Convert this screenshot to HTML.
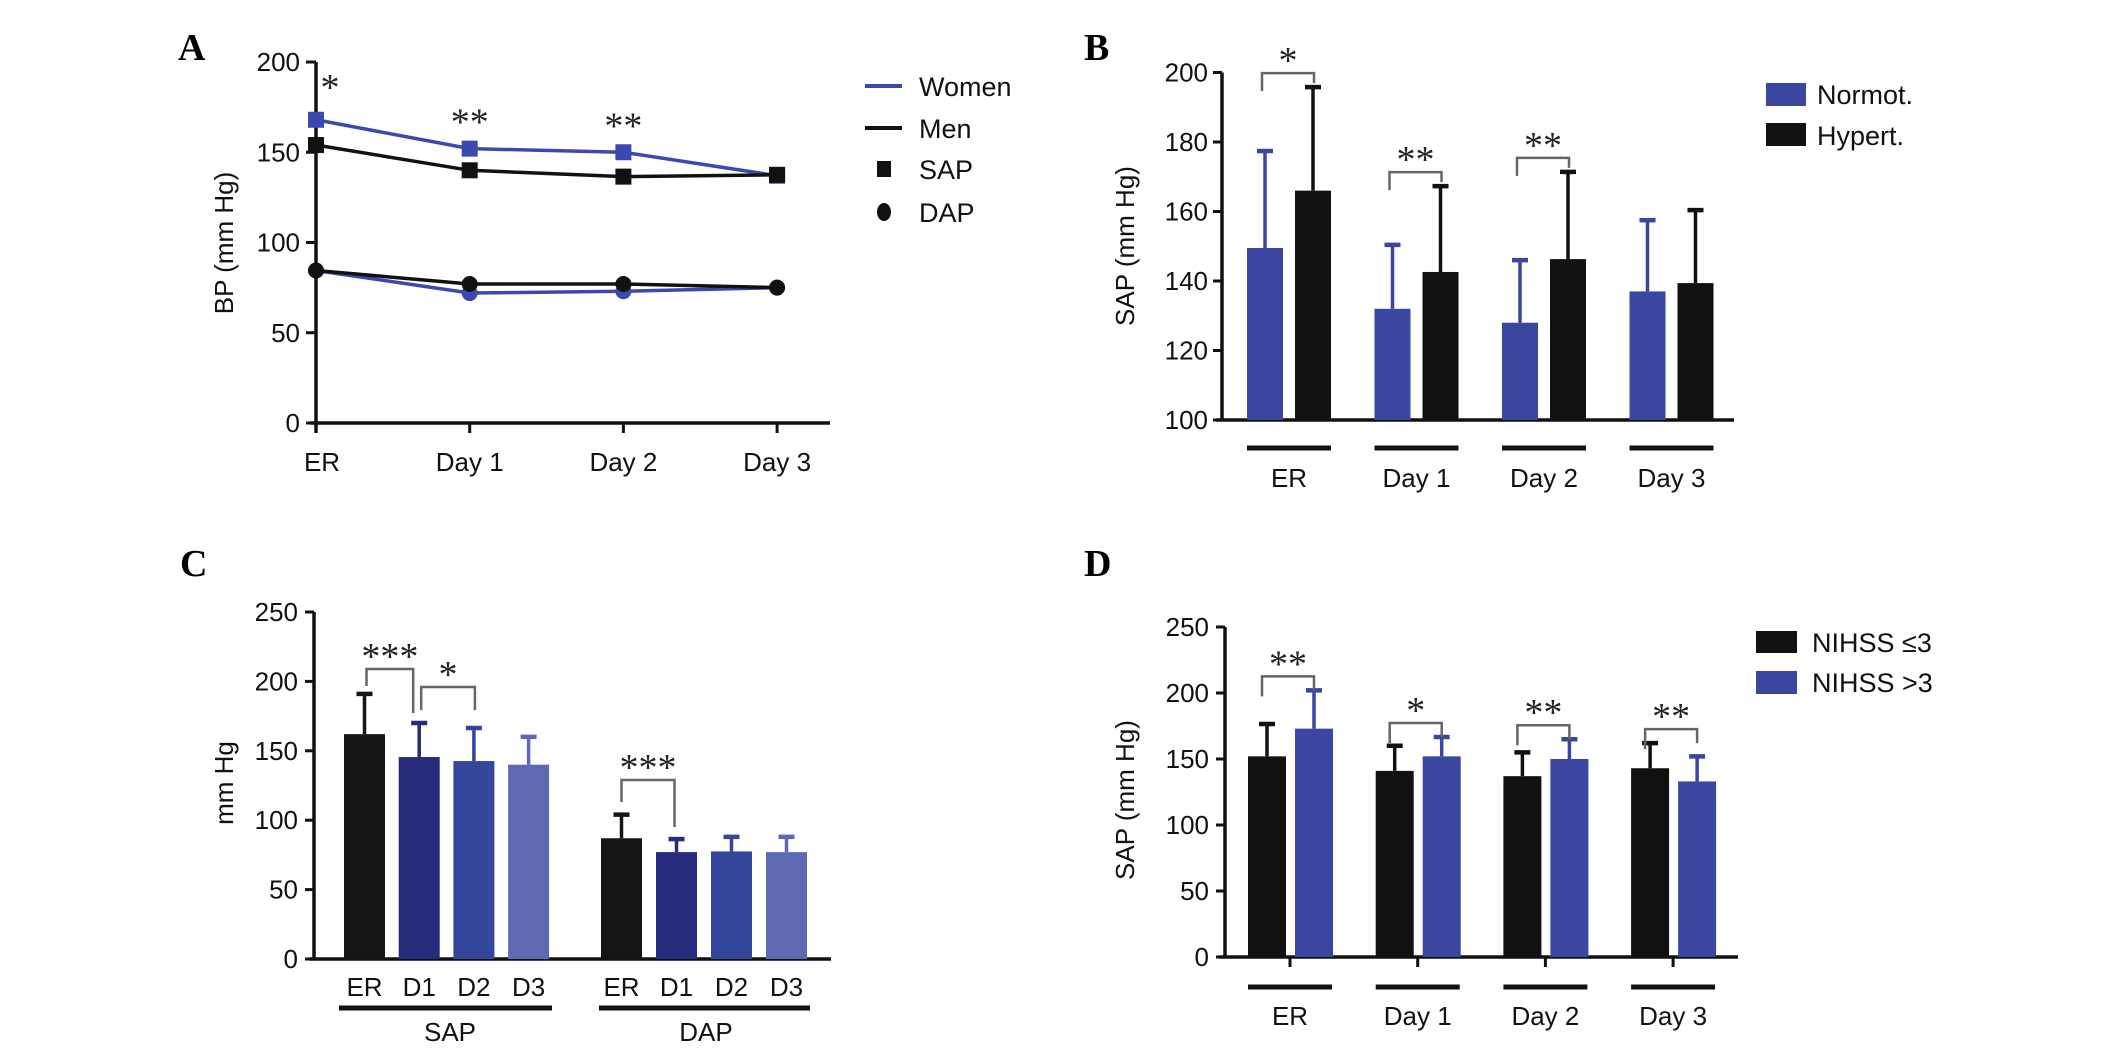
<!DOCTYPE html>
<html><head><meta charset="utf-8"><style>
html,body{margin:0;padding:0;background:#fff;}
svg{display:block;font-family:"Liberation Sans",Arial,sans-serif;}
.t{font-size:26px;fill:#111;}
.lg{font-size:27px;fill:#111;}
.pl{font-family:"Liberation Serif",serif;font-weight:bold;font-size:38px;fill:#000;}
.st{font-family:"Liberation Serif",serif;font-size:38px;fill:#222;}
</style></head><body>
<svg id="fig" width="2126" height="1054" viewBox="0 0 2126 1054">
<rect width="2126" height="1054" fill="#fff"/>
<text class="pl" x="178" y="60">A</text>
<text class="pl" x="1084" y="60">B</text>
<text class="pl" x="180" y="576">C</text>
<text class="pl" x="1084" y="576">D</text>

<text class="t" transform="translate(233,243) rotate(-90)" text-anchor="middle">BP (mm Hg)</text>
<text class="t" transform="translate(1134,246) rotate(-90)" text-anchor="middle">SAP (mm Hg)</text>
<text class="t" transform="translate(233,783) rotate(-90)" text-anchor="middle">mm Hg</text>
<text class="t" transform="translate(1134,800) rotate(-90)" text-anchor="middle">SAP (mm Hg)</text>

<g>
<line x1="865" y1="86" x2="902" y2="86" stroke="#3a48b0" stroke-width="4"/>
<text class="lg" x="919" y="96">Women</text>
<line x1="865" y1="128" x2="902" y2="128" stroke="#111" stroke-width="4"/>
<text class="lg" x="919" y="138">Men</text>
<rect x="877" y="161" width="14" height="16" fill="#111"/>
<text class="lg" x="919" y="179">SAP</text>
<ellipse cx="884" cy="212" rx="7" ry="9" fill="#111"/>
<text class="lg" x="919" y="222">DAP</text>
</g>
<g>
<rect x="1766" y="83" width="40" height="23" fill="#3a46a0"/>
<text class="lg" x="1817" y="104">Normot.</text>
<rect x="1766" y="123" width="40" height="23" fill="#111"/>
<text class="lg" x="1817" y="145">Hypert.</text>
</g>
<g>
<rect x="1756" y="631" width="41" height="22" fill="#111"/>
<text class="lg" x="1812" y="652">NIHSS ≤3</text>
<rect x="1756" y="671" width="41" height="23" fill="#3a46a0"/>
<text class="lg" x="1812" y="692">NIHSS &gt;3</text>
</g>
<g id="marks"></g>
</svg>
<script>
// ---- Panel A data ----
const A_cats = ['ER','Day 1','Day 2','Day 3'];
const A_ticks = [0,50,100,150,200];
const A_womenSAP = [168,152,150,137];
const A_menSAP = [154,140,136.5,137.5];
const A_womenDAP = [84.5,72,73,75];
const A_menDAP = [84.5,77,77,75];
const A_sig = ['*','**','**',''];
// ---- Panel B data ----
const B_cats = ['ER','Day 1','Day 2','Day 3'];
const B_ticks = [100,120,140,160,180,200];
const B_normot = [149.5,132,128,137];
const B_normotErr = [177.4,150.4,146,157.5];
const B_hypert = [166,142.6,146.3,139.4];
const B_hypertErr = [195.8,167.3,171.4,160.4];
const B_sig = ['*','**','**',''];
// ---- Panel C data ----
const C_cats = ['ER','D1','D2','D3'];
const C_groups = ['SAP','DAP'];
const C_ticks = [0,50,100,150,200,250];
const C_sap = [162,145.5,142.6,140];
const C_sapErr = [191,170,166.4,160];
const C_dap = [87,77,77.5,77];
const C_dapErr = [104,86.4,88,88];
// ---- Panel D data ----
const D_cats = ['ER','Day 1','Day 2','Day 3'];
const D_ticks = [0,50,100,150,200,250];
const D_low = [152,141,137,143];
const D_lowErr = [176.5,160,155,162];
const D_high = [173,152,150,133];
const D_highErr = [202,166.7,165,152];
const D_sig = ['**','*','**','**'];

const NS='http://www.w3.org/2000/svg';
const G=document.getElementById('marks');
const BLUE='#3a46a0', BLACK='#111';
function mk(tag,attrs){const e=document.createElementNS(NS,tag);for(const k in attrs)e.setAttribute(k,attrs[k]);G.appendChild(e);return e;}
function line(x1,y1,x2,y2,c,w){return mk('line',{x1:x1,y1:y1,x2:x2,y2:y2,stroke:c,'stroke-width':w});}
function txt(x,y,s,cls,anchor){const e=mk('text',{x:x,y:y,class:cls,'text-anchor':anchor||'middle'});e.textContent=s;return e;}

const xA=i=>316+i*153.7, yA=v=>423-1.805*v;
const xB=i=>1289+i*127.5, yB=v=>420-3.475*(v-100);
const xCs=i=>364.5+i*54.7, xCd=i=>621.5+i*55, yC=v=>959-1.388*v;
const xD=i=>1290+i*127.7, yD=v=>957-1.32*v;

function errBar(cx,yTop,yBase,c){
  const l=line(cx,yBase,cx,yTop,c,3.5);
  
  
  const cap=line(cx-8,yTop,cx+8,yTop,c,4.5);
  
  
}
function bar(x,w,yTop,yBase,c,name){
  const r=mk('rect',{x:x,y:yTop,width:w,height:yBase-yTop,fill:c});
  
  
}
function bracket(x1,x2,yT,l1,l2,label){
  const p=mk('path',{d:`M${x1},${yT+l1} V${yT} H${x2} V${yT+l2}`,fill:'none',stroke:'#666','stroke-width':2.5});
  
  
  const t=txt((x1+x2)/2,yT,label,'st');
  
  
}

// ===== Panel A =====
{
  const ax=line(316,yA(200),316,yA(0)+10,BLACK,3.5);
  
  
  const xax=line(310,yA(0),830,yA(0),BLACK,3.5);
  
  
  A_ticks.forEach(v=>{
    const tk=line(306,yA(v),316,yA(v),BLACK,3);
    
    
    const t=txt(300,yA(v)+9,String(v),'t','end');
    
    
  });
  A_cats.forEach((c,i)=>{
    const tk=line(xA(i),yA(0),xA(i),yA(0)+10,BLACK,3);
    
    
    const t=txt(xA(i)+(i===0?6:0),471,c,'t');
    
    
  });
  const series=[[A_womenDAP,'#3a48b0','c','line-women-dap'],[A_menDAP,BLACK,'c','line-men-dap'],[A_womenSAP,'#3a48b0','s','line-women-sap'],[A_menSAP,BLACK,'s','line-men-sap']];
  series.forEach(([d,col,m,name])=>{
    const pts=d.map((v,i)=>xA(i)+','+yA(v)).join(' ');
    const pl=mk('polyline',{points:pts,fill:'none',stroke:col,'stroke-width':3.5});
    
    
    d.forEach((v,i)=>{
      let e;
      if(m==='s') e=mk('rect',{x:xA(i)-8,y:yA(v)-8,width:16,height:16,fill:col});
      else e=mk('circle',{cx:xA(i),cy:yA(v),r:8,fill:col});
      
      
    });
  });
  A_sig.forEach((s,i)=>{
    if(!s)return;
    const t=txt(xA(i)+(i===0?14:0),yA(A_womenSAP[i])-14+(i===0?-6:0),s,'st');
    
    
  });
}
// ===== Panel B =====
{
  const ax=line(1222,yB(200),1222,yB(100),BLACK,3.5);
  
  
  const xax=line(1216,yB(100),1734,yB(100),BLACK,3.5);
  
  
  B_ticks.forEach(v=>{
    const tk=line(1213,yB(v),1222,yB(v),BLACK,3);
    
    
    const t=txt(1208,yB(v)+9,String(v),'t','end');
    
    
  });
  B_cats.forEach((c,i)=>{
    const cx=xB(i);
    errBar(cx-24,yB(B_normotErr[i]),yB(B_normot[i]),BLUE);
    errBar(cx+24,yB(B_hypertErr[i]),yB(B_hypert[i]),BLACK);
    bar(cx-42,36,yB(B_normot[i]),yB(100),BLUE,'bar-normot');
    bar(cx+6,36,yB(B_hypert[i]),yB(100),BLACK,'bar-hypert');
    const u=line(cx-42,448,cx+42,448,BLACK,5);
    
    
    const t=txt(cx,487,c,'t');
    
    
    if(B_sig[i]){
      const top=Math.min(yB(B_hypertErr[i]),yB(B_normotErr[i]))-14;
      bracket(cx-27,cx+25,top,18,10,B_sig[i]);
    }
  });
}
// ===== Panel C =====
{
  const ax=line(314,yC(250),314,yC(0),BLACK,3.5);
  
  
  const xax=line(309,yC(0),831,yC(0),BLACK,3.5);
  
  
  C_ticks.forEach(v=>{
    const tk=line(305,yC(v),314,yC(v),BLACK,3);
    
    
    const t=txt(298,yC(v)+9,String(v),'t','end');
    
    
  });
  const cols=['#151515','#272b7c','#34459c','#5f69b2'];
  C_cats.forEach((c,i)=>{
    errBar(xCs(i),yC(C_sapErr[i]),yC(C_sap[i]),cols[i]);
    bar(xCs(i)-20.5,41,yC(C_sap[i]),yC(0),cols[i],'bar-sap');
    errBar(xCd(i),yC(C_dapErr[i]),yC(C_dap[i]),cols[i]);
    bar(xCd(i)-20.5,41,yC(C_dap[i]),yC(0),cols[i],'bar-dap');
    const t1=txt(xCs(i),996,c,'t');
    
    
    const t2=txt(xCd(i),996,c,'t');
    
    
  });
  const u1=line(339,1008,552,1008,BLACK,5);
  
  
  const u2=line(599,1008,810,1008,BLACK,5);
  
  
  const g1=txt(450,1041,C_groups[0],'t');
  
  
  const g2=txt(706,1041,C_groups[1],'t');
  
  
  bracket(xCs(0)+2,xCs(1)-6,669,17,44,'***');
  bracket(xCs(1)+2,xCs(2)+1,687,23,23,'*');
  bracket(xCd(0),xCd(1)-2,780,22,47,'***');
}
// ===== Panel D =====
{
  const ax=line(1225,yD(250),1225,yD(0),BLACK,3.5);
  
  
  const xax=line(1219,yD(0),1738,yD(0),BLACK,3.5);
  
  
  D_ticks.forEach(v=>{
    const tk=line(1216,yD(v),1225,yD(v),BLACK,3);
    
    
    const t=txt(1209,yD(v)+9,String(v),'t','end');
    
    
  });
  D_cats.forEach((c,i)=>{
    const cx=xD(i);
    errBar(cx-23,yD(D_lowErr[i]),yD(D_low[i]),BLACK);
    errBar(cx+24,yD(D_highErr[i]),yD(D_high[i]),BLUE);
    bar(cx-42,38,yD(D_low[i]),yD(0),BLACK,'bar-nihss-low');
    bar(cx+5,38,yD(D_high[i]),yD(0),BLUE,'bar-nihss-high');
    const tk=line(cx,yD(0),cx,yD(0)+10,BLACK,3);
    
    
    const u=line(cx-42,987,cx+42,987,BLACK,5);
    
    
    const t=txt(cx,1025,c,'t');
    
    
    if(D_sig[i]){
      const top=Math.min(yD(D_lowErr[i]),yD(D_highErr[i]))-14;
      bracket(cx-28,cx+24,top,20,14,D_sig[i]);
    }
  });
}
</script>
</body></html>
